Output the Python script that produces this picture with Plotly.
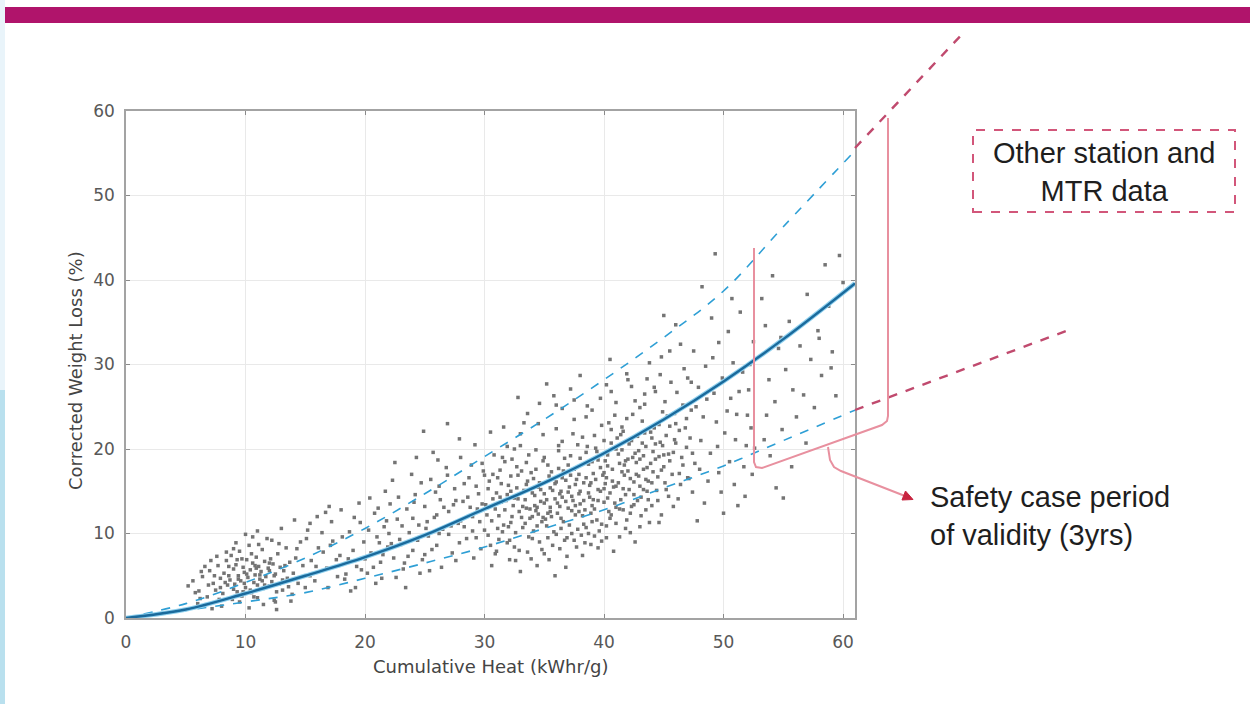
import plotly.graph_objects as go

# ---------------- data ----------------
cluster_low = [
    (5.2,3.8),(5.6,4.4),(6.1,3.2),(6.4,4.9),(6.8,2.5),(7.0,5.6),(7.3,4.1),(7.5,3.3),(7.7,6.2),(7.9,4.7),
    (8.1,2.9),(8.2,5.3),(8.4,6.8),(8.5,3.9),(8.7,4.5),(8.8,7.4),(8.9,2.2),(9.0,5.8),(9.1,4.0),(9.2,6.3),
    (9.3,3.1),(9.4,5.0),(9.5,7.9),(9.6,4.4),(9.7,2.6),(9.8,6.0),(9.9,5.4),(10.0,3.6),(10.1,6.9),(10.2,4.8),
    (10.3,8.6),(10.4,5.7),(10.5,3.0),(10.6,6.5),(10.7,4.2),(10.8,5.1),(10.9,7.2),(11.0,2.4),(11.1,6.1),(11.2,4.6),
    (11.3,5.5),(11.4,8.1),(11.5,3.5),(11.6,6.7),(11.7,4.9),(11.8,9.4),(11.9,5.9),(12.0,3.8),(12.1,7.0),(12.2,4.3),
    (12.3,6.4),(12.4,2.1),(12.5,5.2),(12.7,7.6),(12.8,4.0),(12.9,6.0),(13.1,3.3),(13.2,5.6),(13.4,8.3),(13.5,4.7),
    (13.7,6.6),(13.9,2.8),(14.0,5.3),(14.2,7.1),(14.4,4.1),(14.6,9.0),(14.8,6.2),(15.0,3.6),(15.2,10.4),(15.4,5.0),
    (8.0,1.4),(9.5,1.9),(10.3,1.2),(11.5,1.6),(12.6,1.0),(6.0,1.7),(7.2,1.1),(13.8,2.0),(9.0,8.2),(10.6,9.6),
    (16.0,12.0),(17.2,11.4),(18.0,12.8),(16.5,7.8),(17.6,6.9),(15.8,4.4),(16.9,3.6),(18.4,5.2),(7.6,7.3),(6.6,6.1),
    (9.9,4.1),(10.9,5.9),(8.6,5.0),(11.4,4.4),(12.0,5.6),(9.3,6.9),(10.5,7.6),(7.9,3.6),(12.6,3.1),(11.0,3.9),
    (5.8,3.0),(6.3,5.5),(6.9,3.9),(7.4,5.0),(7.8,2.2),(8.3,4.2),(8.6,6.1),(9.0,3.4),(9.4,4.6),(9.7,7.0),
    (10.1,5.2),(10.4,3.3),(10.8,6.2),(11.2,5.1),(11.6,3.9),(12.0,6.5),(12.4,5.0),(12.8,8.8),(13.3,6.2),(13.6,3.7),
    (8.4,7.8),(9.2,8.9),(10.0,9.9),(11.1,8.7),(7.1,6.8),(6.2,2.3),(12.5,1.9),(13.1,4.5),(10.7,2.5),(9.8,3.1),
]
band_mid = [
    (15.5,6.8),(16.1,8.3),(16.8,5.9),(17.3,9.1),(17.9,7.4),(18.3,4.6),(18.7,10.2),(19.0,8.0),(19.3,6.1),(19.6,11.3),
    (19.9,9.0),(20.2,5.3),(20.5,7.7),(20.8,12.4),(21.0,9.6),(21.3,6.6),(21.6,10.8),(21.9,8.4),(22.1,13.5),(22.4,7.1),
    (22.7,11.7),(22.9,9.3),(23.2,5.8),(23.5,12.9),(23.7,10.1),(24.0,8.0),(24.2,14.6),(24.5,11.0),(24.8,6.9),(25.0,13.2),
    (25.3,9.7),(25.5,16.4),(25.8,11.9),(26.0,8.6),(26.3,14.0),(26.5,10.5),(26.8,17.8),(27.0,12.6),(27.3,7.7),(27.5,15.3),
    (27.8,11.2),(28.0,19.0),(28.2,13.8),(28.5,9.4),(28.7,16.6),(29.0,12.0),(29.2,20.5),(29.5,14.7),(29.7,8.2),(29.9,17.4),
    (18.8,3.2),(20.9,4.1),(22.6,4.8),(24.6,5.3),(26.4,6.0),(21.7,15.0),(23.9,17.0),(25.7,19.6),(27.9,21.2),(19.5,13.6),
    (20.0,7.0),(21.2,8.9),(22.0,10.0),(23.0,8.7),(24.0,11.8),(25.0,7.5),(26.0,12.2),(27.0,9.9),(28.0,11.5),(29.0,10.3),
    (22.5,18.4),(26.9,23.0),(23.4,3.6),(17.0,13.2),(24.9,22.1),(28.6,14.3),(27.4,13.4),(26.2,15.6),(25.1,10.6),(29.4,12.9),
    (14.3,8.2),(15.1,9.4),(15.9,6.1),(16.4,10.1),(17.1,8.6),(17.7,4.9),(18.1,9.6),(18.6,7.0),(19.1,11.9),(19.7,5.7),
    (20.3,10.4),(20.7,6.0),(21.1,13.0),(21.5,7.5),(21.8,11.5),(22.2,8.8),(22.8,14.3),(23.1,10.9),(23.6,7.3),(24.1,13.7),
    (24.4,9.2),(24.7,16.0),(25.2,11.4),(25.6,8.1),(25.9,14.9),(26.2,10.0),(26.6,13.1),(26.9,16.9),(27.2,10.9),(27.6,13.9),
    (27.9,8.9),(28.3,15.9),(28.9,18.1),(29.3,9.5),(29.8,13.5),(20.4,14.2),(22.3,16.3),(24.3,19.0),(26.1,18.7),(23.3,6.5),
    (25.4,5.6),(27.6,6.8),(19.2,3.6),(21.4,4.7),(15.4,11.2),(16.7,12.5),(13.0,10.6),(14.1,11.6),(12.2,9.2),(11.0,10.3),
]
core = [
    (30.1,13.4),(30.3,9.8),(30.4,16.2),(30.6,11.5),(30.8,19.3),(30.9,7.6),(31.0,14.8),(31.2,12.1),(31.3,17.5),(31.5,10.2),
    (31.6,22.6),(31.8,13.9),(31.9,8.9),(32.0,15.7),(32.2,11.3),(32.3,18.8),(32.5,14.2),(32.6,6.8),(32.8,16.9),(32.9,12.6),
    (33.0,20.4),(33.2,10.7),(33.3,15.1),(33.5,13.0),(33.6,24.2),(33.8,11.8),(33.9,17.2),(34.0,9.4),(34.2,14.5),(34.3,19.9),
    (34.5,12.3),(34.6,16.0),(34.8,8.1),(34.9,21.7),(35.0,13.6),(35.2,10.9),(35.3,18.1),(35.5,15.4),(35.6,12.0),(35.8,26.3),
    (35.9,14.1),(36.0,9.9),(36.2,17.7),(36.3,13.2),(36.5,20.9),(36.6,11.4),(36.8,16.3),(36.9,7.3),(37.0,14.9),(37.2,19.2),
    (37.3,12.7),(37.5,23.5),(37.6,15.8),(37.8,10.5),(37.9,17.0),(38.0,13.5),(38.2,21.4),(38.3,11.1),(38.5,16.6),(38.6,25.1),
    (38.8,14.3),(38.9,8.7),(39.0,18.5),(39.2,12.9),(39.3,20.1),(39.5,15.2),(39.6,10.3),(39.8,22.8),(39.9,16.9),(40.0,13.7),
    (40.2,27.6),(40.3,18.0),(40.5,11.8),(40.6,20.7),(40.8,15.5),(40.9,24.0),(41.0,13.1),(41.2,19.4),(41.3,9.6),(41.5,17.3),
    (41.6,22.1),(41.8,14.6),(41.9,28.9),(42.0,18.8),(42.2,12.4),(42.3,21.0),(42.5,16.1),(42.6,25.7),(42.8,13.9),(42.9,19.8),
    (43.0,10.8),(43.2,23.3),(43.3,17.6),(43.5,20.3),(43.6,15.0),(43.8,30.2),(43.9,18.3),(44.0,13.3),(44.2,22.5),(44.3,26.8),
    (44.5,16.7),(44.6,19.1),(44.8,12.2),(44.9,24.4),(45.0,17.9),(45.2,21.6),(45.4,14.4),(45.6,27.9),(45.8,19.6),(46.0,23.0),
    (30.2,12.2),(30.7,14.1),(31.1,10.6),(31.4,15.9),(31.7,12.8),(32.1,9.2),(32.4,13.3),(32.7,17.9),(33.1,11.9),(33.4,14.0),
    (33.7,9.6),(34.1,16.5),(34.4,10.9),(34.7,13.8),(35.1,11.7),(35.4,16.8),(35.7,8.6),(36.1,12.4),(36.4,15.0),(36.7,18.9),
    (37.1,11.0),(37.4,13.9),(37.7,16.4),(38.1,9.8),(38.4,12.8),(38.7,18.2),(39.1,14.0),(39.4,11.6),(39.7,17.8),(40.1,15.9),
    (40.4,12.6),(40.7,16.2),(41.1,21.3),(41.4,14.0),(41.7,18.1),(42.1,15.2),(42.4,19.0),(42.7,17.0),(43.1,14.3),(43.4,21.9),
    (43.7,16.2),(44.1,19.7),(44.4,15.1),(44.7,20.8),(45.1,16.0),(45.5,18.6),(45.9,21.1),(46.3,17.1),(46.6,25.2),(46.9,20.2),
    (31.0,7.9),(32.5,8.4),(33.9,7.0),(35.0,7.6),(36.3,8.2),(37.5,9.2),(38.7,10.0),(39.8,9.1),(41.0,11.2),(42.2,10.1),
    (43.5,12.8),(44.6,11.3),(34.4,6.2),(36.8,6.0),(38.2,7.4),(39.5,8.3),(40.8,7.9),(42.6,9.0),(33.0,5.5),(35.9,5.0),
    (30.5,22.0),(31.9,20.3),(33.3,23.1),(34.6,25.4),(36.0,22.4),(37.2,27.1),(38.5,23.8),(39.7,26.0),(41.0,25.5),(42.3,27.4),
    (43.6,28.3),(44.8,30.9),(45.5,31.6),(40.5,30.6),(38.0,28.7),(36.5,24.8),(35.2,27.7),(32.8,26.1),(47.0,28.4),(46.4,32.4),
    (34.0,12.0),(35.0,14.7),(36.0,16.1),(37.0,13.0),(38.0,15.0),(39.0,13.3),(40.0,17.2),(41.0,15.6),(42.0,17.4),(43.0,18.8),
    (34.5,15.5),(35.5,13.1),(36.5,14.3),(37.5,17.6),(38.5,19.6),(39.5,18.7),(40.5,14.8),(41.5,19.9),(42.5,14.6),(43.5,16.4),
    (33.5,18.4),(34.9,18.6),(36.2,19.8),(37.8,20.5),(39.2,21.6),(40.6,22.3),(41.9,23.6),(43.0,24.9),(44.1,17.3),(45.3,23.9),
    (32.2,15.0),(33.6,16.2),(34.8,11.4),(36.4,10.6),(37.6,12.2),(38.9,16.0),(40.2,10.9),(41.6,12.8),(42.9,16.8),(44.3,20.6),
    (28.3,10.8),(28.8,13.1),(29.3,15.6),(29.6,11.4),(29.8,18.3),(30.0,10.4),(30.3,15.3),(30.5,8.6),(30.7,17.0),(30.9,12.9),
    (31.1,16.6),(31.2,9.3),(31.4,13.7),(31.6,11.0),(31.7,18.5),(31.9,14.6),(32.0,10.8),(32.2,16.8),(32.3,12.0),(32.5,20.0),
    (32.6,10.1),(32.8,14.1),(32.9,8.0),(33.1,17.4),(33.2,13.2),(33.4,11.2),(33.5,15.8),(33.7,19.3),(33.8,12.9),(34.0,14.8),
    (34.1,10.3),(34.3,17.6),(34.4,13.1),(34.6,9.0),(34.7,15.2),(34.9,11.9),(35.0,19.0),(35.2,14.0),(35.3,9.5),(35.5,12.6),
    (35.6,17.3),(35.8,10.2),(35.9,15.9),(36.1,13.6),(36.2,20.4),(36.4,11.8),(36.5,16.6),(36.7,9.2),(36.8,13.8),(37.0,18.1),
    (37.1,15.5),(37.3,10.0),(37.4,21.8),(37.6,13.3),(37.7,8.4),(37.9,14.7),(38.0,18.9),(38.2,12.1),(38.3,16.0),(38.5,10.7),
    (38.6,20.3),(38.8,15.7),(38.9,12.4),(39.1,17.1),(39.2,9.7),(39.4,19.7),(39.5,13.9),(39.7,15.0),(39.8,11.1),(40.0,21.0),
    (40.1,18.6),(40.3,14.2),(40.4,23.1),(40.6,12.2),(40.7,17.6),(40.9,13.6),(41.0,20.0),(41.2,16.0),(41.3,12.9),(41.5,22.6),
    (41.6,15.3),(41.8,18.6),(41.9,11.6),(42.1,20.6),(42.2,16.5),(42.4,24.1),(42.5,13.4),(42.7,18.4),(42.8,21.5),(43.0,15.6),
    (43.1,12.1),(43.3,19.2),(43.4,25.3),(43.6,17.8),(43.7,14.0),(43.9,22.0),(44.0,16.0),(44.2,27.3),(44.3,18.8),(44.5,13.9),
    (44.6,22.9),(44.8,17.5),(44.9,20.4),(45.1,25.6),(45.2,15.2),(45.4,19.4),(45.5,22.7),(45.7,17.0),(45.8,13.2),(46.0,20.7),
    (46.1,26.7),(46.3,22.2),(46.4,15.8),(46.6,18.1),(46.7,29.5),(46.9,23.6),(47.0,16.6),(47.2,21.3),(47.4,19.5),(47.7,25.0),
    (29.1,7.1),(30.6,6.2),(32.1,6.9),(33.6,7.8),(35.4,6.9),(36.9,9.5),(38.4,8.9),(40.2,9.5),(41.8,10.6),(43.8,11.3),
    (31.5,19.0),(33.0,21.8),(34.5,23.0),(36.0,25.2),(37.5,25.8),(39.0,24.6),(40.6,26.8),(42.0,28.2),(43.4,26.5),(44.7,28.8),
    (30.0,16.9),(31.3,14.3),(32.7,15.4),(34.2,13.3),(35.7,15.1),(37.2,16.9),(38.7,14.8),(40.2,16.6),(41.7,16.9),(43.2,20.7),
    (34.3,12.7),(35.3,12.4),(36.3,14.7),(37.3,14.4),(38.3,13.9),(39.3,16.4),(40.3,19.3),(41.3,18.3),(42.3,13.2),(43.3,15.2),
    (36.6,17.4),(37.9,12.6),(39.0,11.4),(40.0,15.3),(41.4,21.7),(42.6,19.5),(44.0,21.3),(45.0,19.3),(45.9,24.2),(47.3,27.9),
]
tail = [
    (46.2,14.1),(46.5,19.0),(46.8,22.5),(47.1,16.5),(47.3,24.6),(47.6,18.3),(47.9,27.3),(48.1,21.0),(48.4,13.6),(48.6,25.9),
    (48.9,19.5),(49.1,30.8),(49.4,23.2),(49.6,17.2),(49.9,28.4),(50.1,21.9),(50.4,33.9),(50.6,26.0),(50.9,15.8),(51.1,24.1),
    (51.4,36.2),(51.6,29.1),(51.9,20.4),(52.1,27.0),(52.3,22.5),(52.5,32.7),(51.2,13.3),(50.0,12.4),(49.0,35.5),(48.2,39.2),
    (49.3,43.1),(47.5,31.6),(46.0,34.7),(45.0,35.8),(47.8,11.5),(52.4,17.0),(53.2,37.8),(53.5,34.6),(53.8,28.2),(54.1,40.5),
    (54.3,25.6),(54.6,31.9),(54.9,22.3),(55.2,29.4),(55.5,35.1),(55.8,27.0),(56.1,23.8),(56.4,32.2),(56.7,26.4),(57.0,38.3),
    (57.3,30.6),(57.6,24.9),(57.9,34.0),(58.2,28.7),(58.5,41.8),(58.8,36.9),(59.1,31.5),(59.4,26.3),(59.7,42.9),(60.0,39.7),
    (53.4,21.1),(53.9,19.2),(54.4,15.4),(55.0,14.2),(55.7,17.9),(53.6,24.0),(54.8,33.2),(56.9,20.7),(58.0,33.1),(59.0,29.6),
    (47.4,14.9),(48.0,17.6),(48.3,23.8),(48.7,16.2),(49.2,26.6),(49.5,20.3),(49.8,14.9),(50.3,24.5),(50.5,18.5),(50.8,30.2),
    (51.0,21.1),(51.3,26.8),(51.7,17.9),(52.0,24.0),(52.2,30.0),(50.7,37.8),(49.6,32.6),(48.5,29.8),(51.8,14.4),(52.6,20.1),
]

fit_heat = [0, 5, 10, 15, 20, 25, 30, 35, 40, 45, 50, 55, 61]
fit_mid = [0, 1.0, 2.9, 5.0, 7.2, 9.8, 12.9, 16.0, 19.5, 23.5, 28.0, 33.0, 39.6]
fit_upper = [0, 1.7, 4.2, 7.1, 10.6, 14.7, 19.1, 23.5, 28.2, 33.2, 38.7, 46.3, 55.3]
fit_lower = [0, 0.9, 1.9, 3.0, 4.7, 6.5, 8.4, 10.6, 12.8, 15.4, 18.0, 21.0, 24.6]

x_ticks = [0, 10, 20, 30, 40, 50, 60]
y_ticks = [0, 10, 20, 30, 40, 50, 60]

# ---------------- layout geometry (pixels) ----------------
W, H = 1250, 704
L, R, T, B = 126, 855, 111, 618
PW, PH = R - L, B - T

def px(x):
    return (x - L) / PW

def py(y):
    return (B - y) / PH

points = cluster_low + band_mid + core + tail
heat = [p[0] for p in points]
loss = [p[1] for p in points]

fig = go.Figure()
fig.add_trace(go.Scatter(
    x=heat, y=loss, mode="markers",
    marker=dict(symbol="square", size=3.5, color="#747474", line=dict(width=0)),
    hoverinfo="skip", showlegend=False))
fig.add_trace(go.Scatter(
    x=fit_heat, y=fit_upper, mode="lines", line=dict(color="#2e9fd5", width=1.6, dash="dash", shape="spline"),
    showlegend=False))
fig.add_trace(go.Scatter(
    x=fit_heat, y=fit_lower, mode="lines", line=dict(color="#2e9fd5", width=1.6, dash="dash", shape="spline"),
    showlegend=False))
fig.add_trace(go.Scatter(
    x=fit_heat, y=fit_mid, mode="lines", line=dict(color="#8fd0ee", width=4.5, shape="spline"),
    hoverinfo="skip", showlegend=False))
fig.add_trace(go.Scatter(
    x=fit_heat, y=fit_mid, mode="lines", line=dict(color="#1a6a9c", width=2.4, shape="spline"),
    showlegend=False))

shapes = []
shapes.append(dict(type="rect", xref="paper", yref="paper", x0=px(2), x1=px(1250), y0=py(23), y1=py(7),
                   fillcolor="#b0146b", line=dict(width=0), layer="below"))
shapes.append(dict(type="rect", xref="paper", yref="paper", x0=px(0), x1=px(5), y0=py(390), y1=py(0),
                   fillcolor="#e9f4fa", line=dict(width=0), layer="below"))
shapes.append(dict(type="rect", xref="paper", yref="paper", x0=px(0), x1=px(5), y0=py(704), y1=py(390),
                   fillcolor="#b9e0ee", line=dict(width=0), layer="below"))
shapes.append(dict(type="line", xref="paper", yref="paper", x0=px(855), y0=py(148), x1=px(966), y1=py(30),
                   line=dict(color="#c04a6e", width=2.4, dash="dash")))
shapes.append(dict(type="line", xref="paper", yref="paper", x0=px(855), y0=py(410), x1=px(1066), y1=py(331),
                   line=dict(color="#c04a6e", width=2.4, dash="dash")))

def path(pts, close=False):
    s = "M " + " L ".join(f"{px(a):.5f},{py(b):.5f}" for a, b in pts)
    return s + (" Z" if close else "")

shapes.append(dict(type="path", xref="paper", yref="paper",
                   path=path([(754, 248), (754, 462), (756, 467), (762, 468), (882, 425), (887, 421), (888, 416), (888, 118)]),
                   line=dict(color="#e8909f", width=2)))
shapes.append(dict(type="path", xref="paper", yref="paper",
                   path=path([(828, 447), (830, 460), (834, 467), (841, 471), (905, 496)]),
                   line=dict(color="#e8909f", width=2)))
shapes.append(dict(type="path", xref="paper", yref="paper",
                   path=path([(913, 499.5), (902, 500), (905.5, 491)], close=True),
                   fillcolor="#c8243f", line=dict(color="#c8243f", width=1)))
shapes.append(dict(type="rect", xref="paper", yref="paper", x0=px(973), x1=px(1235), y0=py(212), y1=py(130),
                   line=dict(color="#d2567a", width=2, dash="dash"), fillcolor="rgba(0,0,0,0)"))

annotations = [
    dict(text="Cumulative Heat (kWhr/g)", xref="paper", yref="paper", x=px(490), y=py(666),
         xanchor="center", yanchor="middle", showarrow=False,
         font=dict(family="DejaVu Sans", size=18, color="#444444")),
    dict(text="Corrected Weight Loss (%)", xref="paper", yref="paper", x=px(75), y=py(371),
         xanchor="center", yanchor="middle", textangle=-90, showarrow=False,
         font=dict(family="DejaVu Sans", size=18, color="#444444")),
    dict(text="Safety case period<br>of validity (3yrs)", xref="paper", yref="paper", x=px(928), y=py(516),
         xanchor="left", yanchor="middle", align="left", showarrow=False,
         font=dict(family="Liberation Sans", size=29, color="#1e1e1e")),
    dict(text="Other station and<br>MTR data", xref="paper", yref="paper", x=px(1104), y=py(172),
         xanchor="center", yanchor="middle", align="center", showarrow=False,
         font=dict(family="Liberation Sans", size=29, color="#1e1e1e")),
]

axis_common = dict(showgrid=True, gridcolor="#e9e9e9", gridwidth=1, zeroline=False,
                   showline=True, linecolor="#a3a3a3", linewidth=1.5, mirror="ticks",
                   ticks="inside", ticklen=4, tickcolor="#8a8a8a",
                   tickfont=dict(family="DejaVu Sans", size=17, color="#585858"))

fig.update_layout(
    width=W, height=H,
    margin=dict(l=L, r=W - R, t=T, b=H - B, autoexpand=False),
    paper_bgcolor="white", plot_bgcolor="white",
    xaxis=dict(range=[0, 61], tickvals=x_ticks, ticklabelstandoff=8, **axis_common),
    yaxis=dict(range=[0, 60], tickvals=y_ticks, ticklabelstandoff=6, **axis_common),
    shapes=shapes, annotations=annotations, showlegend=False,
)

fig.write_html("out.html")
